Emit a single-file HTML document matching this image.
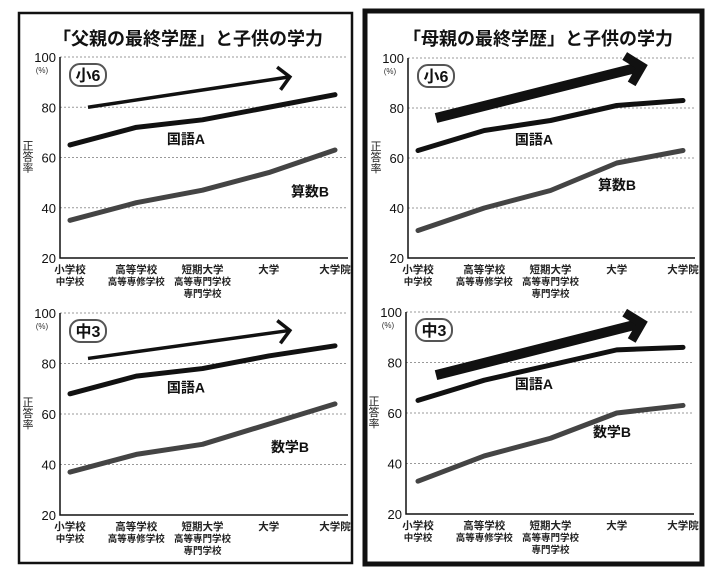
<!DOCTYPE html>
<html><head><meta charset="utf-8">
<style>
body{margin:0;background:#fff;width:720px;height:580px;overflow:hidden}
svg text{font-family:"Liberation Sans","Noto Sans CJK JP",sans-serif}
</style></head><body>
<svg id="c" width="720" height="580" xmlns="http://www.w3.org/2000/svg">
<rect x="0" y="0" width="720" height="580" fill="#fff"/>
<rect x="19" y="13" width="333" height="550" fill="none" stroke="#111" stroke-width="2.5"/>
<rect x="365" y="11" width="337" height="553" fill="none" stroke="#111" stroke-width="5"/>
<text x="188" y="45" text-anchor="middle" font-size="18" font-weight="bold" fill="#111">「父親の最終学歴」と子供の学力</text>
<text x="538" y="45" text-anchor="middle" font-size="18" font-weight="bold" fill="#111">「母親の最終学歴」と子供の学力</text>
</svg>
<script>
const categories1 = ["小学校","高等学校","短期大学","大学","大学院"];
const categories2 = ["中学校","高等専修学校","高等専門学校","",""];
const categories3 = ["","","専門学校","",""];
const yTicks = [20,40,60,80,100];
const fatherE6Japanese = [65,72,75,80,85];
const fatherE6Math = [35,42,47,54,63];
const fatherJ3Japanese = [68,75,78,83,87];
const fatherJ3Math = [37,44,48,56,64];
const motherE6Japanese = [63,71,75,81,83];
const motherE6Math = [31,40,47,58,63];
const motherJ3Japanese = [65,73,79,85,86];
const motherJ3Math = [33,43,50,60,63];
const e6Labels = ["小6","国語A","算数B"];
const j3Labels = ["中3","国語A","数学B"];

const svg = document.getElementById('c');
const NS = "http://www.w3.org/2000/svg";
function mk(tag, attrs, parent){
  const e = document.createElementNS(NS, tag);
  for (const k in attrs) e.setAttribute(k, attrs[k]);
  (parent||svg).appendChild(e);
  return e;
}
function panel(p){
  const g = mk('g', {});
  
  
  const y = v => p.y100 + (100 - v) / 80 * (p.y20 - p.y100);
  const x = i => p.x0 + i * (p.x1 - p.x0) / (categories1.length - 1);
  yTicks.forEach(t => {
    if (t > 20) {
      const gl = mk('line', {x1:p.ax, x2:p.right, y1:y(t), y2:y(t), stroke:'#999', 'stroke-width':1, 'stroke-dasharray':'2,2'}, g);
      
      
    }
    const tl = mk('text', {x:p.ax - 4, y:y(t) + 5, 'text-anchor':'end', 'font-size':13, fill:'#111'}, g);
    tl.textContent = t;
    
    
  });
  const pc = mk('text', {x:p.ax - 18, y:y(100) + 16, 'text-anchor':'middle', 'font-size':8, fill:'#333'}, g);
  pc.textContent = '(%)';
  
  
  ['正','答','率'].forEach((ch, i) => {
    const t = mk('text', {x:p.ax - 32, y:y(60) - 8 + i * 11, 'text-anchor':'middle', 'font-size':11, fill:'#222'}, g);
    t.textContent = ch;
    
    
  });
  const axes = mk('path', {d:`M${p.ax},${y(100)} V${y(20)} H${p.right}`, fill:'none', stroke:'#111', 'stroke-width':1.5}, g);
  
  
  categories1.forEach((c, i) => {
    [categories1[i], categories2[i], categories3[i]].forEach((s, j) => {
      if (!s) return;
      const t = mk('text', {x:x(i), y:y(20) + 15 + j * 12, 'text-anchor':'middle', 'font-size': j === 0 ? 10.5 : 9.5, 'font-weight':'bold', fill:'#222'}, g);
      t.textContent = s;
      
      
    });
  });
  const ah = p.thick ? 10 : 3.5;
  const ax1 = x(0) + 18, ay1 = y(p.arrow[0]), ax2 = x(3.5) - 14, ay2 = y(p.arrow[1]);
  const arr = mk('line', {x1:ax1, y1:ay1, x2:ax2, y2:ay2, stroke:'#111', 'stroke-width':ah}, g);
  
  
  const ang = Math.atan2(ay2 - ay1, ax2 - ax1), L = p.thick ? 20 : 16;
  const hx = ax2 + (p.thick ? 6 : 2) * Math.cos(ang), hy = ay2 + (p.thick ? 6 : 2) * Math.sin(ang);
  const head = mk('path', {d:`M${hx - L*Math.cos(ang-0.8)},${hy - L*Math.sin(ang-0.8)} L${hx},${hy} L${hx - L*Math.cos(ang+0.8)},${hy - L*Math.sin(ang+0.8)}`, fill:'none', stroke:'#111', 'stroke-width':p.thick ? 9 : 3.5, 'stroke-linejoin':'miter'}, g);
  
  
  [[p.ja, '#111', 'japanese-line'], [p.ma, '#444', 'math-line']].forEach(([d, col, nm]) => {
    const pl = mk('polyline', {points:d.map((v, i) => x(i) + ',' + y(v)).join(' '), fill:'none', stroke:col, 'stroke-width':5, 'stroke-linejoin':'round', 'stroke-linecap':'round'}, g);
    
    
  });
  const badge = mk('rect', {x:p.ax + 10, y:y(100) + 7, width:36, height:22, rx:10, fill:'#fff', stroke:'#555', 'stroke-width':2}, g);
  
  
  const bt = mk('text', {x:p.ax + 28, y:y(100) + 24, 'text-anchor':'middle', 'font-size':16, 'font-weight':'bold', fill:'#111'}, g);
  bt.textContent = p.labels[0];
  
  
  const jl = mk('text', {x:x(1.75), y:y(p.ja[2]) + 24, 'text-anchor':'middle', 'font-size':14, 'font-weight':'bold', fill:'#111'}, g);
  jl.textContent = p.labels[1];
  
  
  const ml = mk('text', {x:p.mlx, y:y(p.ma[3]) + p.mly, 'text-anchor':'middle', 'font-size':14, 'font-weight':'bold', fill:'#111'}, g);
  ml.textContent = p.labels[2];
  
  
}
panel({name:'father-grade6-chart', ax:60, right:348, x0:70, x1:335, y100:57, y20:258, ja:fatherE6Japanese, ma:fatherE6Math, arrow:[80,92], thick:false, labels:e6Labels, mlx:310, mly:24});
panel({name:'father-grade9-chart', ax:60, right:348, x0:70, x1:335, y100:313, y20:515, ja:fatherJ3Japanese, ma:fatherJ3Math, arrow:[82,93], thick:false, labels:j3Labels, mlx:290, mly:28});
panel({name:'mother-grade6-chart', ax:408, right:695, x0:418, x1:683, y100:58, y20:258, ja:motherE6Japanese, ma:motherE6Math, arrow:[76,96], thick:true, labels:e6Labels, mlx:617, mly:27});
panel({name:'mother-grade9-chart', ax:406, right:694, x0:418, x1:683, y100:312, y20:514, ja:motherJ3Japanese, ma:motherJ3Math, arrow:[75,95], thick:true, labels:j3Labels, mlx:612, mly:24});
</script>
</body></html>
